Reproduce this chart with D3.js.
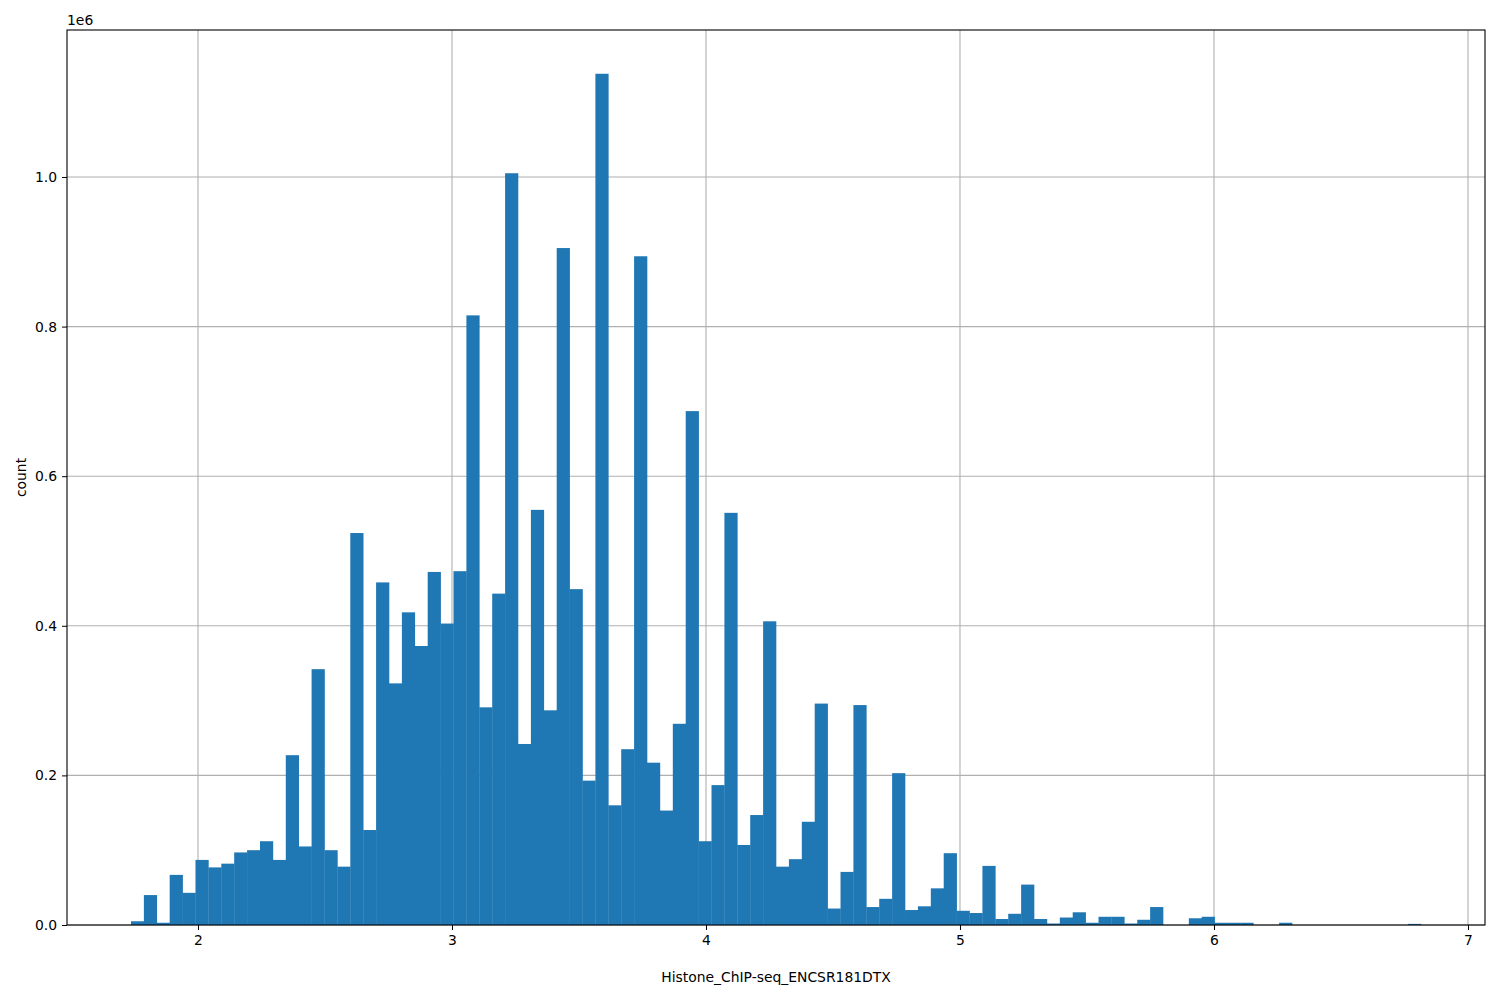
<!DOCTYPE html>
<html><head><meta charset="utf-8">
<script src="https://cdn.jsdelivr.net/npm/d3@7"></script>
<style>body{margin:0;background:#fff}text{font-family:"DejaVu Sans",sans-serif}</style>
</head><body><div id="chart"></div>
<script>
const binStart = 1.7362, binWidth = 0.05079;
const counts = [5000,40000,3000,67000,43000,87000,77000,82000,97000,100000,
 112000,87000,227000,105000,342000,100000,78000,524000,127000,458000,
 323000,418000,373000,472000,403000,473000,815000,291000,443000,1005000,
 242000,555000,287000,905000,449000,193000,1138000,160000,235000,894000,
 217000,153000,269000,687000,112000,187000,551000,107000,147000,406000,
 78000,88000,138000,296000,22000,71000,294000,24000,35000,203000,
 20000,25000,49000,96000,19000,16000,79000,8000,15000,54000,
 8000,2000,10000,17000,3000,11000,11000,2000,7000,24000,
 0,0,9000,11000,3000,3000,3000,0,0,3000,
 0,0,0,0,0,0,0,0,0,1500];
const xTicks = [2,3,4,5,6,7];
const yTicks = [0,200000,400000,600000,800000,1000000];

const width = 1500, height = 1000,
  margin = {top: 30, right: 15, bottom: 75, left: 67};

const svg = d3.select("#chart").append("svg").attr("width", width).attr("height", height);
const x = d3.scaleLinear().domain([1.4843, 7.067]).range([margin.left, width - margin.right]);
const y = d3.scaleLinear().domain([0, 1.1965e6]).range([height - margin.bottom, margin.top]);

// grid
svg.append("g").selectAll("line").data(xTicks).join("line")
  .attr("x1", d => x(d)).attr("x2", d => x(d)).attr("y1", y(0)).attr("y2", margin.top)
  .attr("stroke", "#b0b0b0").attr("stroke-width", 1.1);
svg.append("g").selectAll("line").data(yTicks).join("line")
  .attr("x1", margin.left).attr("x2", width - margin.right).attr("y1", d => y(d)).attr("y2", d => y(d))
  .attr("stroke", "#b0b0b0").attr("stroke-width", 1.1);

// bars
svg.append("g").selectAll("rect").data(counts).join("rect")
  .attr("x", (d, i) => x(binStart + i * binWidth))
  .attr("width", (d, i) => x(binStart + (i + 1) * binWidth) - x(binStart + i * binWidth) + 0.3)
  .attr("y", d => y(d)).attr("height", d => y(0) - y(d))
  .attr("fill", "#1f77b4");

// axes
const xAxis = svg.append("g").attr("transform", `translate(0,${y(0)})`)
  .call(d3.axisBottom(x).tickValues(xTicks).tickFormat(d3.format("d")).tickSize(5).tickPadding(5));
const yAxis = svg.append("g").attr("transform", `translate(${margin.left},0)`)
  .call(d3.axisLeft(y).tickValues(yTicks).tickFormat(d => (d / 1e6).toFixed(1)).tickSize(5).tickPadding(5));
[xAxis, yAxis].forEach(a => {
  a.select(".domain").remove();
  a.selectAll("text").attr("font-size", 13.9).attr("fill", "#000").attr("font-family", "DejaVu Sans");
});
svg.append("rect").attr("x", margin.left).attr("y", margin.top)
  .attr("width", width - margin.right - margin.left).attr("height", y(0) - margin.top)
  .attr("fill", "none").attr("stroke", "#000").attr("stroke-width", 1.1);

svg.append("text").attr("x", margin.left).attr("y", 25).attr("font-size", 13.9).text("1e6");
svg.append("text").attr("x", (margin.left + width - margin.right) / 2).attr("y", 982)
  .attr("text-anchor", "middle").attr("font-size", 13.9).text("Histone_ChIP-seq_ENCSR181DTX");
svg.append("text").attr("transform", `translate(26,${(margin.top + y(0)) / 2}) rotate(-90)`)
  .attr("text-anchor", "middle").attr("font-size", 13.9).text("count");
</script></body></html>
